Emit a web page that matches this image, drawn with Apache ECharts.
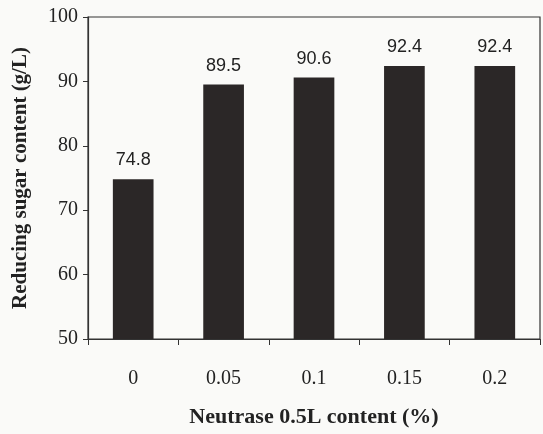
<!DOCTYPE html>
<html>
<head>
<meta charset="utf-8">
<script src="https://cdn.jsdelivr.net/npm/echarts@6/dist/echarts.min.js"></script>
<style>
  html, body { margin: 0; padding: 0; background: #fafaf8; }
  #chart { width: 543px; height: 434px; }
</style>
</head>
<body>
<div id="chart"></div>
<script>
// Neutrase 0.5L dosage vs. reducing sugar yield
const categories = ['0', '0.05', '0.1', '0.15', '0.2'];
const reducingSugar = [74.8, 89.5, 90.6, 92.4, 92.4];
const yTicks = { min: 50, max: 100, interval: 10 };

const serif = '"Liberation Serif", "Times New Roman", serif';
const sans = '"Liberation Sans", Arial, sans-serif';

const chart = echarts.init(document.getElementById('chart'));
chart.setOption({
  backgroundColor: '#fafaf8',
  animation: false,
  grid: { left: 88, right: 3, top: 17, bottom: 95, show: true, borderColor: '#333', borderWidth: 1.2, backgroundColor: 'transparent' },
  xAxis: {
    type: 'category',
    data: categories,
    name: 'Neutrase 0.5L content (%)',
    nameLocation: 'middle',
    nameGap: 67,
    nameTextStyle: { fontFamily: serif, fontWeight: 'bold', fontSize: 22, color: '#222' },
    axisLine: { lineStyle: { color: '#333', width: 1.2 } },
    axisTick: { show: true, inside: false, length: 6, lineStyle: { color: '#333' } },
    axisLabel: { fontFamily: serif, fontSize: 20, color: '#222', margin: 30 },
    splitLine: { show: false }
  },
  yAxis: {
    type: 'value',
    min: yTicks.min,
    max: yTicks.max,
    interval: yTicks.interval,
    name: 'Reducing sugar content (g/L)',
    nameLocation: 'middle',
    nameGap: 57,
    nameTextStyle: { fontFamily: serif, fontWeight: 'bold', fontSize: 21, color: '#222' },
    axisLine: { show: true, lineStyle: { color: '#333', width: 1.2 } },
    axisTick: { show: true, inside: false, length: 5, lineStyle: { color: '#333' } },
    axisLabel: { fontFamily: serif, fontSize: 20, color: '#222', margin: 10 },
    splitLine: { show: false }
  },
  series: [{
    type: 'bar',
    data: reducingSugar,
    barWidth: '45%',
    itemStyle: { color: '#2b2727' },
    label: {
      show: true,
      position: 'top',
      distance: 10,
      fontFamily: sans,
      fontSize: 18,
      color: '#222',
      formatter: p => p.value.toFixed(1)
    }
  }]
});
</script>
</body>
</html>
